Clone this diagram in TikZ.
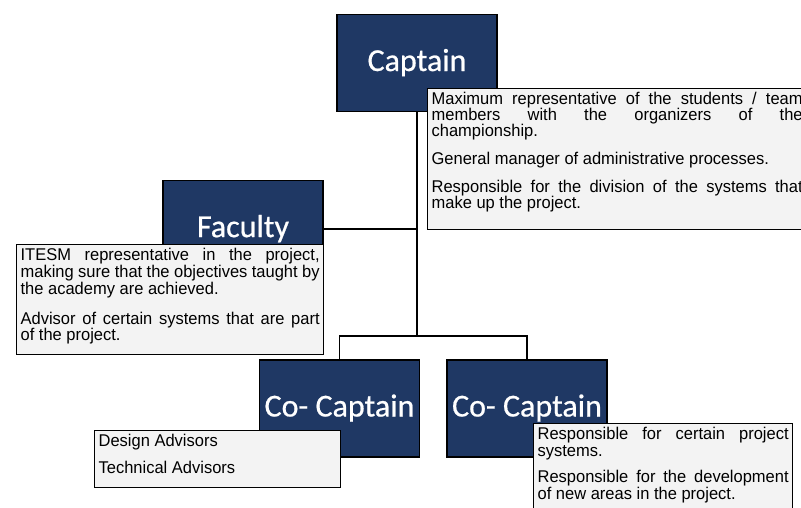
\documentclass[tikz,border=0pt]{standalone}
\usepackage{fontspec}
\setmainfont{Liberation Sans}[FakeStretch=0.97]
\newfontfamily\titlefont{Carlito}[FakeBold=0.6]
\definecolor{navy}{RGB}{31,56,100}
\definecolor{notefill}{RGB}{243,243,243}
\newcommand{\roletext}[1]{\raisebox{6pt}{\titlefont\fontsize{32}{32}\selectfont\color{white}#1}}
\newcommand{\notesetup}{\parindent=0pt\hyphenpenalty=10000\exhyphenpenalty=10000\tolerance=9999\emergencystretch=3em}
\begin{document}
\begin{tikzpicture}[x=1pt,y=-1pt,
  role/.style={draw=black, line width=1.6pt, fill=navy, minimum width=160pt, minimum height=97pt, inner sep=0pt},
  notebox/.style={draw=black, line width=1.3pt, fill=notefill, anchor=north west, inner sep=4pt},
  link/.style={draw=black, line width=1.6pt}]
\useasboundingbox (0,0) rectangle (801,508);
\clip (0,0) rectangle (801,508);
\fill[white] (0,0) rectangle (801,508);

% role boxes
\node[role] (cap) at (417,63) {\roletext{Captain}};
\node[role] (fac) at (243,229) {\roletext{Faculty}};
\node[role] (cc1) at (339.5,408.5) {\roletext{Co- Captain}};
\node[role] (cc2) at (527,408.5) {\roletext{Co- Captain}};
\coordinate (junc) at (417,336);

% connectors
\draw[link] (cap.south) -- (junc);
\draw[link] (fac.east) -- (fac.east -| cap.south);
\draw[link] (cc1.north) |- (junc) -| (cc2.north);

% note boxes
\node[notebox] (capnote) at (427,88) {\parbox[c][133pt][t]{371pt}{\fontsize{17}{16}\selectfont\notesetup\parskip=12pt
Maximum representative of the students / team\linebreak members with the organizers of the\linebreak championship.\par
General manager of administrative processes.\par
Responsible for the division of the systems that make up the project.}};

\node[notebox] (facnote) at (16,244) {\parbox[c][102pt][t]{299pt}{\fontsize{17}{14.5}\selectfont\notesetup\parskip=12.5pt
ITESM representative in the project, making sure that the objectives taught by the academy are achieved.\par
Advisor of certain systems that are part\linebreak of the project.}};

\node[notebox] (cc1note) at (94,430) {\parbox[c][49pt][t]{238pt}{\fontsize{17}{16}\selectfont\notesetup\parskip=11pt\raggedright
Design Advisors\par
Technical Advisors}};

\node[notebox] (cc2note) at (533,423) {\parbox[c][89pt][t]{251pt}{\fontsize{17}{17}\selectfont\notesetup\parskip=9pt
Responsible for certain project systems.\par
Responsible for the development of new areas in the project.}};
\end{tikzpicture}
\end{document}
